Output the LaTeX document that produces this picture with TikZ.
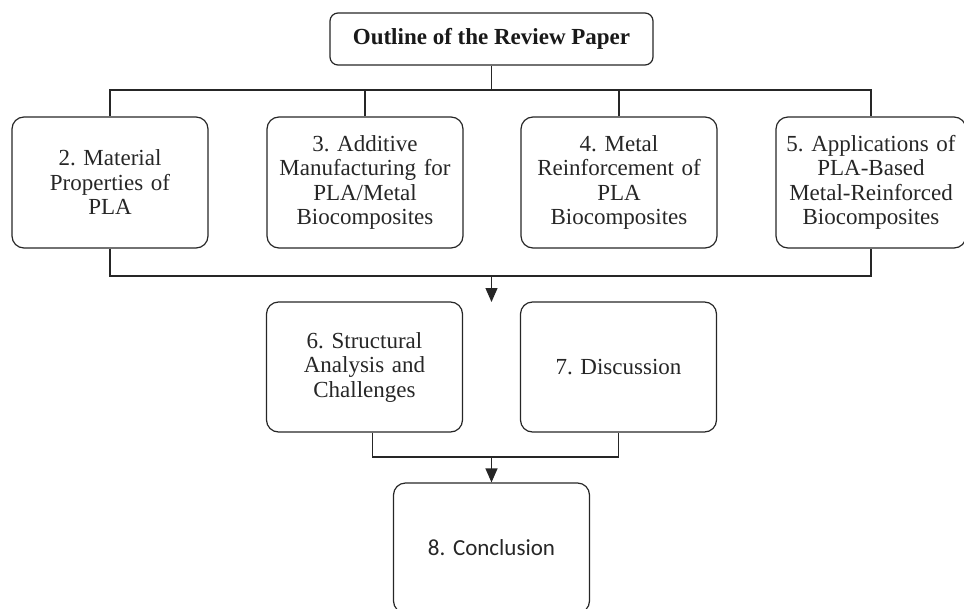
\documentclass[tikz,border=0pt]{standalone}
\usepackage{fontspec}
\setmainfont{Liberation Serif}
\newfontfamily\calibfont{Carlito}
\usetikzlibrary{arrows.meta}
\frenchspacing
\begin{document}
\begin{tikzpicture}[x=1pt,y=-1pt,
  secbox/.style={draw=black!85, line width=1.2pt, rounded corners=12pt, minimum width=196pt, minimum height=131pt, text width=190pt, align=center, text=black!85, font=\fontsize{23}{24.5}\selectfont, inner sep=0pt},
  titlebox/.style={draw=black!85, line width=1.2pt, rounded corners=8pt, minimum width=323pt, minimum height=52pt, align=center, text=black!90, font=\fontsize{23}{25}\selectfont\bfseries, inner sep=0pt},
  link/.style={draw=black!85, line width=1.2pt},
  arr/.style={link, -{Triangle[length=14pt,width=12pt]}}]
\useasboundingbox (0,0) rectangle (964,608);
\clip (0,0) rectangle (964,608);
\node[titlebox] (top) at (491.5,39) {Outline of the Review Paper};
\node[secbox] (b2) at (110,182.5) {2. Material\\Properties of\\PLA};
\node[secbox] (b3) at (365,182.5) {3. Additive\\Manufacturing for\\PLA/Metal\\Biocomposites};
\node[secbox] (b4) at (619,182.5) {4. Metal\\Reinforcement of\\PLA\\Biocomposites};
\node[secbox, minimum width=190pt] (b5) at (871,182.5) {5. Applications of\\PLA-Based\\Metal-Reinforced\\Biocomposites};
\node[secbox, minimum height=130pt] (b6) at (364.5,367) {6. Structural\\Analysis and\\Challenges};
\node[secbox, minimum height=130pt] (b7) at (618.5,367) {7. Discussion};
\node[secbox, minimum height=130pt, font=\calibfont\fontsize{23}{25}\selectfont] (b8) at (491.5,548) {8. Conclusion};
\coordinate (j1) at (491.5,90);
\coordinate (j2) at (491.5,276);
\coordinate (a1) at (491.5,302);
\coordinate (j3) at (491.5,457);
\draw[link] (top.south) -- (j1);
\draw[link] (b2.north) |- (j1) -| (b5.north);
\draw[link] (b3.north) -- (b3.north |- j1);
\draw[link] (b4.north) -- (b4.north |- j1);
\draw[link] (b2.south) |- (j2) -| (b5.south);
\draw[arr] (j2) -- (a1);
\draw[link] ([xshift=8pt]b6.south) |- (j3) -| (b7.south);
\draw[arr] (j3) -- (b8.north);
\end{tikzpicture}
\end{document}
